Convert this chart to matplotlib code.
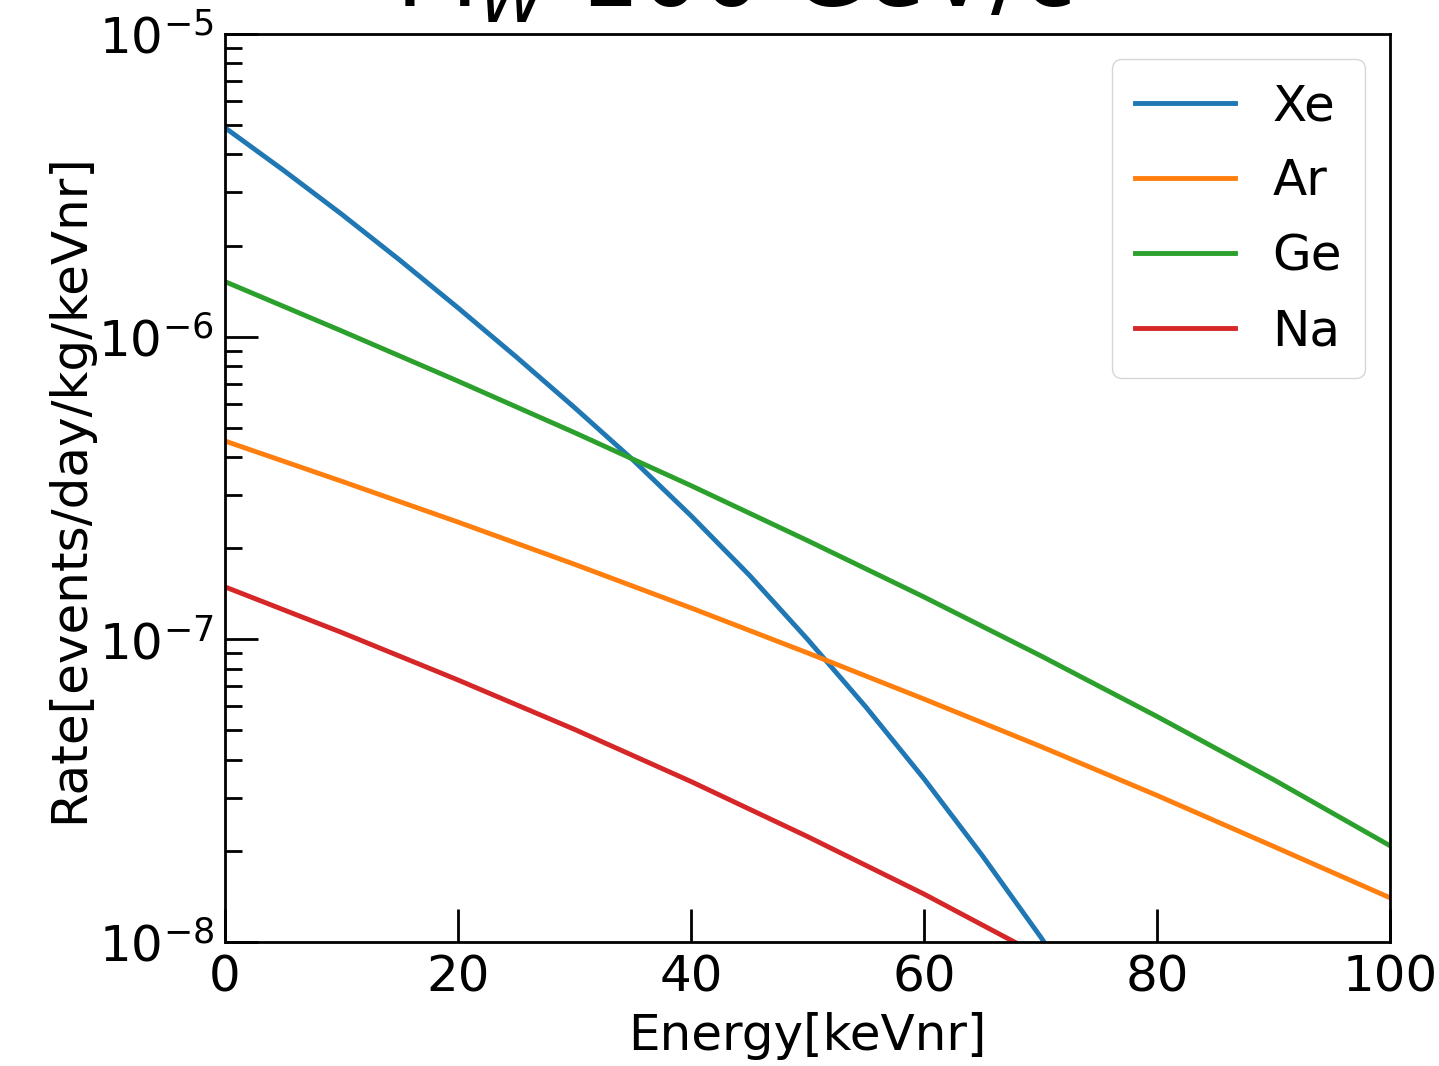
import matplotlib
matplotlib.use('Agg')
import matplotlib.pyplot as plt
import numpy as np

# Recoil spectra (events/day/kg/keVnr) vs nuclear recoil energy
energy_xe = [0, 5, 10, 15, 20, 25, 30, 35, 40, 45, 50, 55, 60, 65, 70, 75]
rate_xe = [4.90e-6, 3.55e-6, 2.54e-6, 1.79e-6, 1.245e-6, 8.57e-7, 5.83e-7, 3.92e-7,
           2.56e-7, 1.63e-7, 1.00e-7, 5.98e-8, 3.46e-8, 1.93e-8, 1.04e-8, 5.4e-9]

energy_ar = [0, 10, 20, 30, 40, 50, 60, 70, 80, 90, 100]
rate_ar = [4.52e-7, 3.33e-7, 2.44e-7, 1.77e-7, 1.27e-7, 9.02e-8, 6.35e-8, 4.43e-8,
           3.05e-8, 2.07e-8, 1.40e-8]

energy_ge = [0, 10, 20, 30, 40, 50, 60, 70, 80, 90, 100]
rate_ge = [1.52e-6, 1.045e-6, 7.13e-7, 4.82e-7, 3.22e-7, 2.12e-7, 1.38e-7, 8.83e-8,
           5.56e-8, 3.44e-8, 2.08e-8]

energy_na = [0, 10, 20, 30, 40, 50, 60, 70]
rate_na = [1.49e-7, 1.054e-7, 7.34e-8, 5.04e-8, 3.39e-8, 2.23e-8, 1.44e-8, 9.0e-9]

fig = plt.figure(figsize=(14.39, 10.66), dpi=100)
ax = fig.add_axes([0.1564, 0.1163, 0.8096, 0.8518])

ax.plot(energy_xe, rate_xe, lw=3.5, label='Xe')
ax.plot(energy_ar, rate_ar, lw=3.5, label='Ar')
ax.plot(energy_ge, rate_ge, lw=3.5, label='Ge')
ax.plot(energy_na, rate_na, lw=3.5, label='Na')

ax.set_yscale('log')
ax.set_xlim(0, 100)
ax.set_ylim(1e-8, 1e-5)
ax.set_xticks([0, 20, 40, 60, 80, 100])

ax.tick_params(which='major', direction='in', length=24, width=2, labelsize=36, pad=8)
ax.tick_params(which='minor', direction='in', length=12, width=2)
ax.xaxis.set_minor_locator(matplotlib.ticker.NullLocator())
for s in ax.spines.values():
    s.set_linewidth(2)

ax.set_xlabel('Energy[keVnr]', fontsize=36, labelpad=8)
ax.set_ylabel('Rate[events/day/kg/keVnr]', fontsize=36, labelpad=4)
ax.legend(fontsize=36, loc='upper right', labelspacing=0.54, borderpad=0.46,
          handletextpad=0.75)

fig.text(395 / 1439, 1 - 7 / 1066, r'M$_{W}$ 100 GeV/c$^{2}$', fontsize=69,
         ha='left', va='baseline')

fig.savefig('out.png', dpi=100)
